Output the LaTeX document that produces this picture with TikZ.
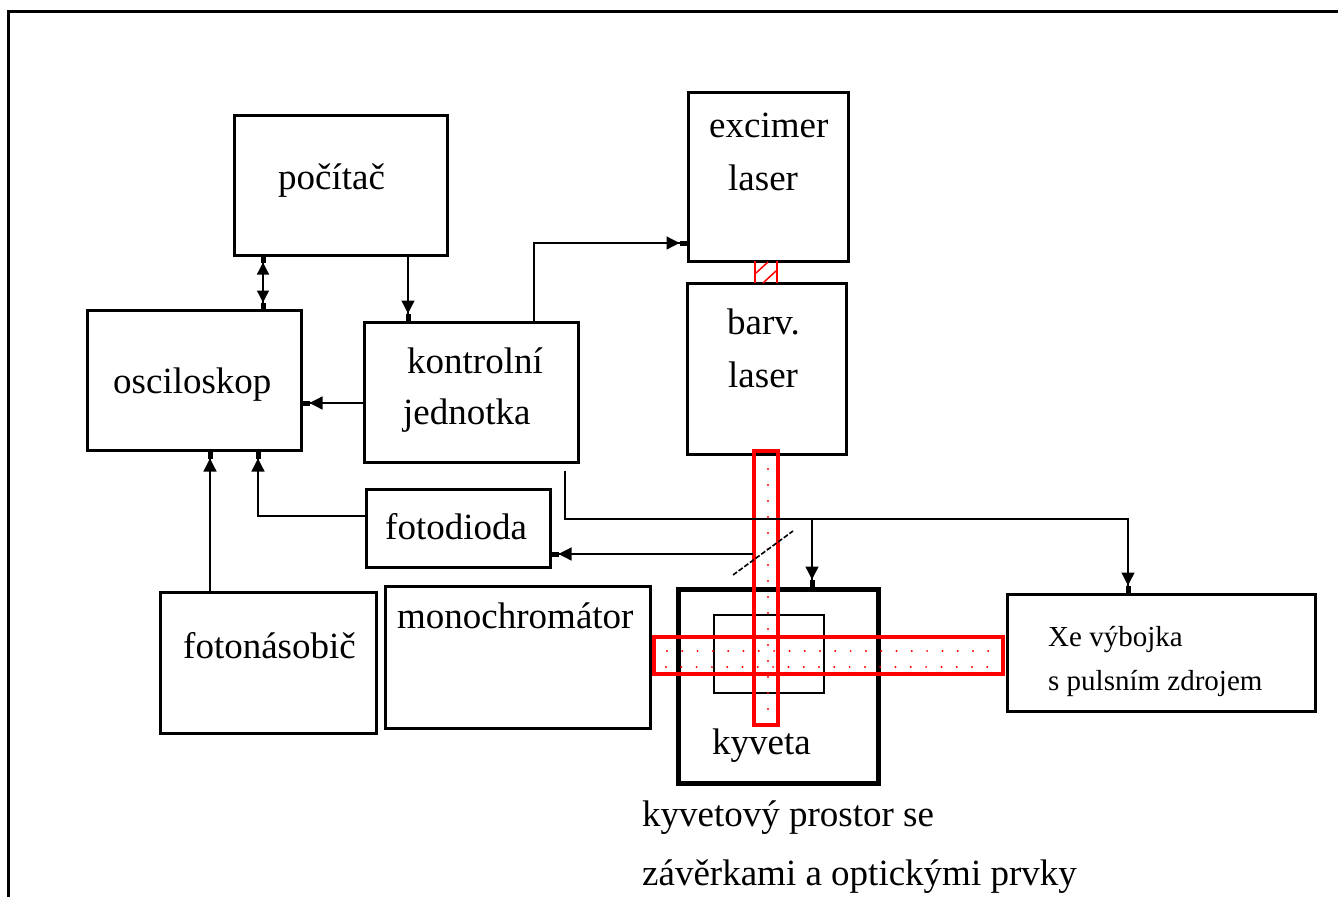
\documentclass[tikz,border=0pt]{standalone}
\usepackage{fontspec}
\setmainfont{Liberation Serif}
\usetikzlibrary{arrows.meta}
\begin{document}
\begin{tikzpicture}[x=1pt,y=-1pt,
  box/.style={draw,line width=3pt,inner sep=0pt,rectangle},
  txt/.style={anchor=base west,inner sep=0pt,font=\fontsize{37}{44}\selectfont},
  xetxt/.style={anchor=base west,inner sep=0pt,font=\fontsize{29}{36}\selectfont},
  conn/.style={line width=1.3pt},
  arr/.style={conn,-{Triangle[length=13pt,width=13pt,sep=0pt]Rectangle[length=7pt,width=5pt,sep=0pt]}},
  arrboth/.style={conn,{Rectangle[length=6pt,width=5pt,sep=0pt]Triangle[length=12pt,width=12pt,sep=0pt]}-{Triangle[length=12pt,width=12pt,sep=0pt]Rectangle[length=6pt,width=5pt,sep=0pt]}},
  beam/.style={draw=red,line width=4pt},
  rdot/.style={fill=red,draw=none}]
\useasboundingbox (0,0) rectangle (1338,897);
\fill[white] (0,0) rectangle (1338,897);
% outer frame
\draw[line width=3pt] (8,897) -- (8,11) -- (1338,11);

% boxes
\node[box,minimum width=213pt,minimum height=140pt] (poc) at (340.5,185) {};
\node[box,minimum width=214pt,minimum height=140pt] (osc) at (194,380) {};
\node[box,minimum width=214pt,minimum height=140pt] (kon) at (471,392) {};
\node[box,minimum width=184pt,minimum height=78pt] (fd) at (458,528) {};
\node[box,minimum width=160pt,minimum height=169pt] (exc) at (768,176.5) {};
\node[box,minimum width=159pt,minimum height=171pt] (bar) at (766.5,368.5) {};
\node[box,minimum width=216pt,minimum height=141pt] (fn) at (268,662.5) {};
\node[box,minimum width=265pt,minimum height=142pt] (mono) at (517.5,657) {};
\node[box,line width=5pt,minimum width=200pt,minimum height=194pt] (kyv) at (778,686) {};
\node[draw,line width=1.5pt,inner sep=0pt,minimum width=110pt,minimum height=78pt] (cuv) at (769,654) {};
\node[box,minimum width=308pt,minimum height=117pt] (xe) at (1161,652.5) {};

% texts
\node[txt] (tpoc) at (278,189) {počítač};
\node[txt] (tosc) at (113,393) {osciloskop};
\node[txt] (tkon1) at (407,373) {kontrolní};
\node[txt] (tkon2) at (403,424) {jednotka};
\node[txt] (tfd) at (385,539) {fotodioda};
\node[txt] (texc1) at (709,137) {excimer};
\node[txt] (texc2) at (728,190) {laser};
\node[txt] (tbar1) at (727,334) {barv.};
\node[txt] (tbar2) at (728,387) {laser};
\node[txt] (tfn) at (183,658) {fotonásobič};
\node[txt] (tmono) at (397,628) {monochromátor};
\node[txt] (tkyv) at (712,754) {kyveta};
\node[xetxt] (txe1) at (1048,646) {Xe výbojka};
\node[xetxt] (txe2) at (1048,690) {s pulsním zdrojem};
\node[txt] (tprost1) at (642,826) {kyvetový prostor se};
\node[txt] (tprost2) at (642,885) {závěrkami a optickými prvky};

% red hatched coupling between lasers
\draw[red,line width=1.5pt] (755,261) -- (755,283) (777,261) -- (777,283);
\draw[red,line width=1.5pt] (756,273) -- (768,262) (763,283) -- (776,271);

% beams
\draw[beam] (754,451) rectangle (778,725);
\draw[beam] (654,637) rectangle (1003,674);
\foreach \yy in {469,485,...,710} \fill[rdot] (768,\yy) circle (1.1pt);
\foreach \xx in {667,682.3,...,1003} {
  \fill[rdot] (\xx,651) circle (1.1pt);
  \fill[rdot] (\xx-1,667) circle (1.1pt);
}

% beam splitter
\draw[line width=1.6pt,dash pattern=on 5pt off 2pt] (733,575) -- (793,531);

% connectors
\coordinate (c1) at (565,471);
\coordinate (jn) at (1128,519);
\coordinate (bs) at (753,554);
\draw[arrboth] (263,0 |- poc.south) -- (263,0 |- osc.north);
\draw[arr] (408,0 |- poc.south) -- (408,0 |- kon.north);
\draw[arr] (kon.west |- 0,403) -- (osc.east |- 0,403);
\draw[arr] (534,0 |- kon.north) |- (exc.west |- 0,243);
\draw[arr] (c1) |- (jn) -- (jn |- xe.north);
\draw[arr] (812,519) -- (812,0 |- kyv.north);
\draw[arr] (bs) -- (fd.east |- bs);
\draw[arr] (fd.west |- 0,516) -| (258,0 |- osc.south);
\draw[arr] (210,0 |- fn.north) -- (210,0 |- osc.south);
\end{tikzpicture}
\end{document}
